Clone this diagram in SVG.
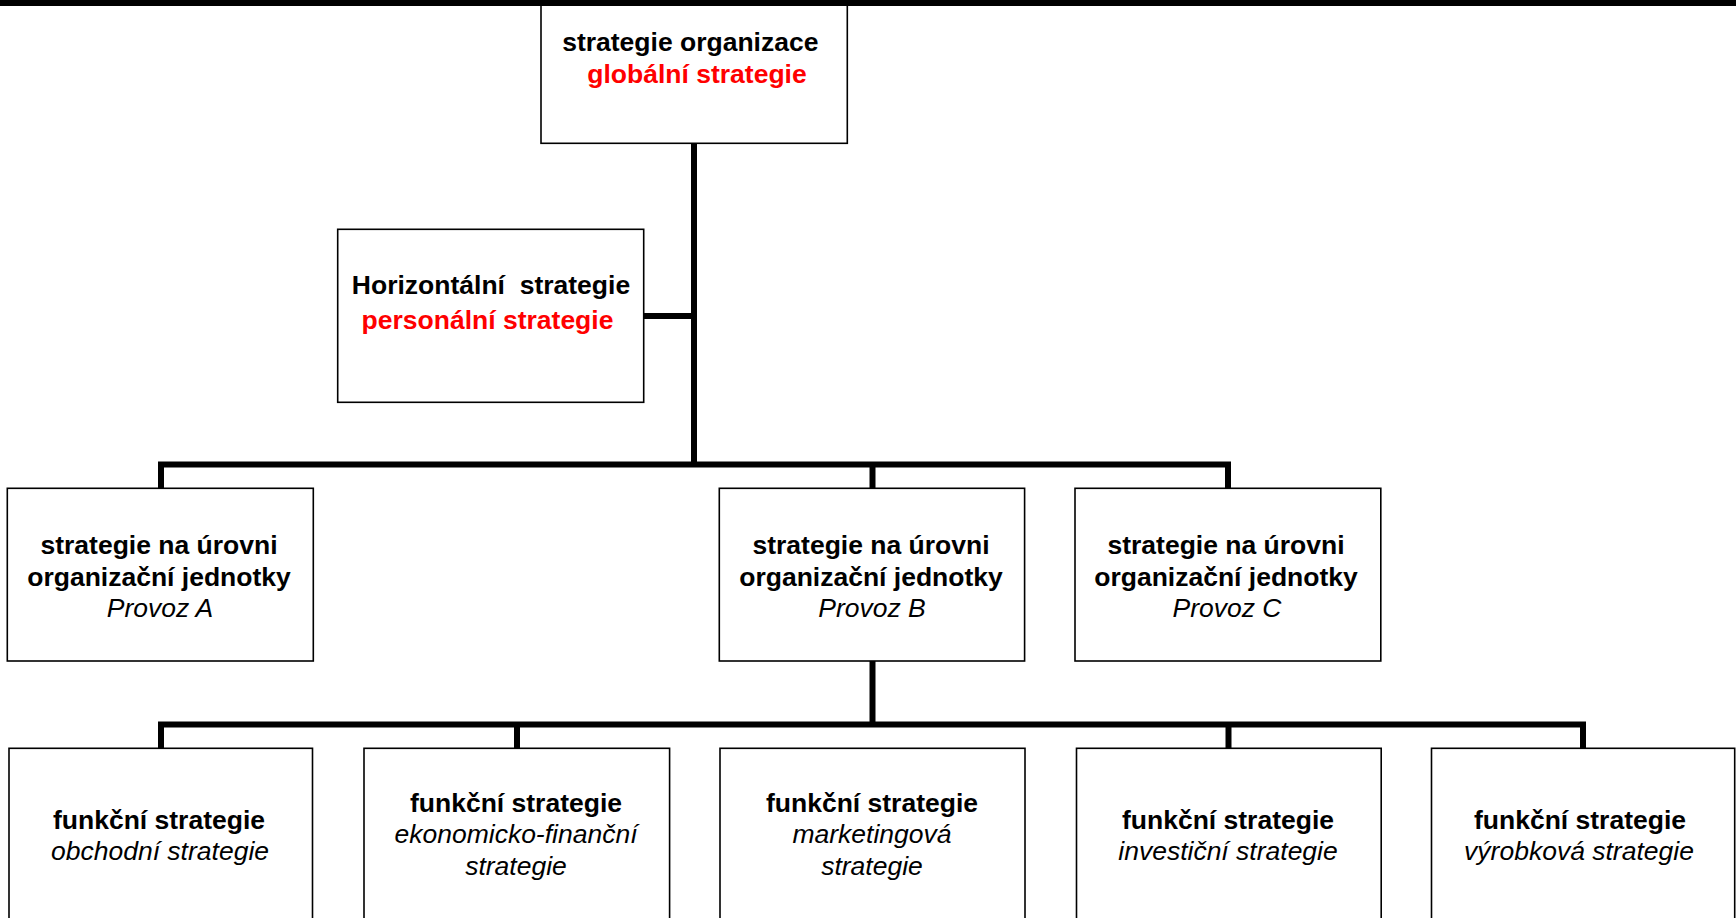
<svg xmlns="http://www.w3.org/2000/svg" width="1736" height="918" viewBox="0 0 1736 918">
<style>
.box{fill:#fff;stroke:#000;stroke-width:1.6}
.conn{fill:none;stroke:#000;stroke-width:6;stroke-linejoin:miter;stroke-linecap:butt}
text{font-family:"Liberation Sans",Arial,sans-serif;font-size:26.5px;text-anchor:middle;white-space:pre}
.b{font-weight:bold;fill:#000}
.r{font-weight:bold;fill:#f00}
.i{font-style:italic;fill:#000}
</style>
<rect x="0" y="0" width="1736" height="918" fill="#fff"/>
<g id="connectors">
<path class="conn" d="M694,143 V467"/>
<path class="conn" d="M643.7,316 H694"/>
<path class="conn" d="M161,488 V464.5 H1228 V488"/>
<path class="conn" d="M872.5,464.5 V488"/>
<path class="conn" d="M872.5,661 V727"/>
<path class="conn" d="M161,748 V724.5 H1583 V748"/>
<path class="conn" d="M517,724.5 V748"/>
<path class="conn" d="M1228.5,724.5 V748"/>
</g>
<g id="n-top">
<rect class="box" x="541" y="-4" width="306.3" height="147.3"/>
<text class="b" x="694" y="51">strategie organizace </text>
<text class="r" x="697" y="83">globální strategie</text>
</g>
<g id="n-horizontal">
<rect class="box" x="337.7" y="229.3" width="306" height="173"/>
<text class="b" x="491" y="293.5">Horizontální  strategie</text>
<text class="r" x="487.5" y="329">personální strategie</text>
</g>
<g id="n-provozA">
<rect class="box" x="7.3" y="488.3" width="306" height="172.7"/>
<text class="b" x="159" y="553.5">strategie na úrovni</text>
<text class="b" x="159" y="585.5">organizační jednotky</text>
<text class="i" x="160" y="616.5">Provoz A</text>
</g>
<g id="n-provozB">
<rect class="box" x="719.3" y="488.3" width="305.3" height="172.7"/>
<text class="b" x="871" y="553.5">strategie na úrovni</text>
<text class="b" x="871" y="585.5">organizační jednotky</text>
<text class="i" x="872" y="616.5">Provoz B</text>
</g>
<g id="n-provozC">
<rect class="box" x="1075" y="488.3" width="305.8" height="172.7"/>
<text class="b" x="1226" y="553.5">strategie na úrovni</text>
<text class="b" x="1226" y="585.5">organizační jednotky</text>
<text class="i" x="1227" y="616.5">Provoz C</text>
</g>
<g id="n-obchodni">
<rect class="box" x="9" y="748.3" width="303.5" height="190"/>
<text class="b" x="159" y="829">funkční strategie</text>
<text class="i" x="160" y="860">obchodní strategie</text>
</g>
<g id="n-ekonomicko">
<rect class="box" x="364" y="748.3" width="305.6" height="190"/>
<text class="b" x="516" y="812">funkční strategie</text>
<text class="i" x="516" y="843">ekonomicko-finanční</text>
<text class="i" x="516" y="875">strategie</text>
</g>
<g id="n-marketing">
<rect class="box" x="720" y="748.3" width="305" height="190"/>
<text class="b" x="872" y="812">funkční strategie</text>
<text class="i" x="872" y="843">marketingová</text>
<text class="i" x="872" y="875">strategie</text>
</g>
<g id="n-investicni">
<rect class="box" x="1076.5" y="748.3" width="304.7" height="190"/>
<text class="b" x="1228" y="829">funkční strategie</text>
<text class="i" x="1228" y="860">investiční strategie</text>
</g>
<g id="n-vyrobkova">
<rect class="box" x="1431.5" y="748.3" width="303.2" height="190"/>
<text class="b" x="1580" y="829">funkční strategie</text>
<text class="i" x="1579" y="860">výrobková strategie</text>
</g>
<rect x="0" y="0" width="1736" height="6" fill="#000"/>
</svg>
